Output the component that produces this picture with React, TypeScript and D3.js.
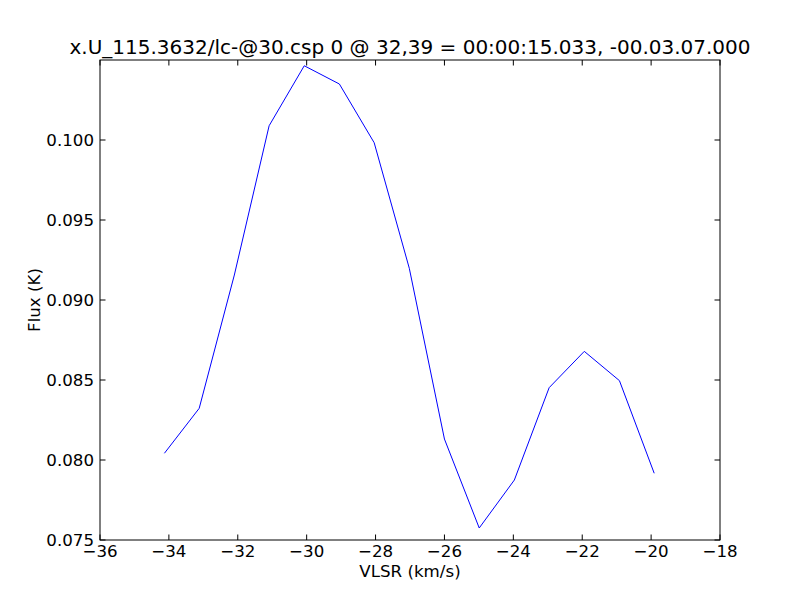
import React from "react";
import * as d3 from "d3";

const velocities = [-34.13, -33.12, -32.1, -31.09, -30.07, -29.05, -28.04, -27.02, -26.0, -24.99, -23.97, -22.96, -21.94, -20.92, -19.91];
const fluxes = [0.08042, 0.08323, 0.09156, 0.10089, 0.10464, 0.1035, 0.09983, 0.09198, 0.08131, 0.07575, 0.07875, 0.08452, 0.08679, 0.08496, 0.07917];
const xTicks = [-36, -34, -32, -30, -28, -26, -24, -22, -20, -18];
const yTicks = [0.075, 0.08, 0.085, 0.09, 0.095, 0.1];
const title = "x.U_115.3632/lc-@30.csp 0 @ 32,39 = 00:00:15.033, -00.03.07.000";

export default function App() {
  const W = 800, H = 600;
  const L = 100, R = 720, T = 60, B = 540;
  const x = d3.scaleLinear().domain([-36, -18]).range([L, R]);
  const y = d3.scaleLinear().domain([0.075, 0.105]).range([B, T]);
  const line = d3.line<number>().x((_, i) => x(velocities[i])).y((d) => y(d));
  const tl = 5.5;
  const font = "DejaVu Sans, sans-serif";
  const fmtX = (v: number) => (v < 0 ? "\u2212" + Math.abs(v) : String(v));
  return (
    <svg width={W} height={H} style={{ position: "absolute", left: 0, top: 0, background: "#fff" }} fontFamily={font}>
      <rect x={0} y={0} width={W} height={H} fill="#fff" />
      <path d={line(fluxes) || ""} fill="none" stroke="#0000ff" strokeWidth={1} />
      {xTicks.map((t) => (
        <g key={"x" + t}>
          <line x1={x(t)} x2={x(t)} y1={B} y2={B - tl} stroke="#000" strokeWidth={1} />
          <line x1={x(t)} x2={x(t)} y1={T} y2={T + tl} stroke="#000" strokeWidth={1} />
          <text x={x(t)} y={557} fontSize={16.67} textAnchor="middle">{fmtX(t)}</text>
        </g>
      ))}
      {yTicks.map((t) => (
        <g key={"y" + t}>
          <line x1={L} x2={L + tl} y1={y(t)} y2={y(t)} stroke="#000" strokeWidth={1} />
          <line x1={R} x2={R - tl} y1={y(t)} y2={y(t)} stroke="#000" strokeWidth={1} />
          <text x={94} y={y(t)} dy="0.36em" fontSize={16.67} textAnchor="end">{t.toFixed(3)}</text>
        </g>
      ))}
      <rect x={L} y={T} width={R - L} height={B - T} fill="none" stroke="#000" strokeWidth={1} />
      <text x={(L + R) / 2} y={54} fontSize={20} textAnchor="middle">{title}</text>
      <text x={(L + R) / 2} y={577} fontSize={16.67} textAnchor="middle">VLSR (km/s)</text>
      <text transform={`translate(40,${(T + B) / 2}) rotate(-90)`} fontSize={16.67} textAnchor="middle">Flux (K)</text>
    </svg>
  );
}
